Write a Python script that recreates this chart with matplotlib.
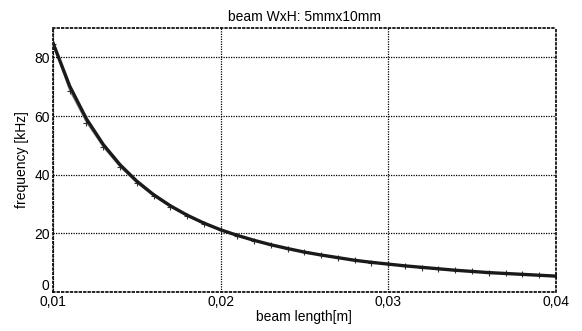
import matplotlib
matplotlib.use("Agg")
import matplotlib.pyplot as plt
from matplotlib.ticker import FuncFormatter
from matplotlib.transforms import ScaledTranslation

plt.rcParams["font.family"] = ["Liberation Sans", "DejaVu Sans"]

# beam length [m]
length = [0.010, 0.011, 0.012, 0.013, 0.014, 0.015, 0.016, 0.017, 0.018, 0.019,
          0.020, 0.021, 0.022, 0.023, 0.024, 0.025, 0.026, 0.027, 0.028, 0.029,
          0.030, 0.031, 0.032, 0.033, 0.034, 0.035, 0.036, 0.037, 0.038, 0.039,
          0.040]
# computed frequency [kHz] (thick line)
freq_calc = [85.0, 70.2, 59.0, 50.3, 43.4, 37.8, 33.2, 29.4, 26.2, 23.5,
             21.2, 19.3, 17.6, 16.1, 14.8, 13.6, 12.6, 11.7, 10.8, 10.1,
             9.5, 8.9, 8.4, 7.9, 7.4, 7.0, 6.6, 6.3, 6.0, 5.7,
             5.4]
# second series with + markers
freq_meas = [84.6, 68.6, 57.8, 49.4, 42.6, 37.2, 32.7, 29.0, 25.9, 23.2,
             21.0, 19.1, 17.4, 16.0, 14.7, 13.5, 12.5, 11.6, 10.8, 10.0,
             9.4, 8.8, 8.3, 7.8, 7.4, 7.0, 6.6, 6.3, 6.0, 5.7,
             5.4]

fig = plt.figure(figsize=(5.82, 3.31), dpi=100)
ax = fig.add_axes([0.091, 0.118, 0.864, 0.797])

ax.plot(length, freq_meas, color="#888888", linewidth=0.8, marker="+",
        markersize=5, markeredgewidth=0.8, markeredgecolor="#333333", zorder=2)
ax.plot(length, freq_calc, color="#1a1a1a", linewidth=2.4, zorder=3)

ax.set_xlim(0.01, 0.04)
ax.set_ylim(0, 90)
ax.set_xticks([0.01, 0.02, 0.03, 0.04])
ax.set_yticks([0, 20, 40, 60, 80])
ax.xaxis.set_major_formatter(FuncFormatter(lambda v, p: f"{v:.2f}".replace(".", ",")))
ax.grid(True, color="black", linestyle=(0, (1, 1)), linewidth=0.9)
for s in ax.spines.values():
    s.set_linestyle(":")
    s.set_linewidth(1.2)
ax.tick_params(length=0, labelsize=10, pad=2)

# lift the "0" label a little so it clears "0,01"
ylab0 = ax.get_yticklabels()[0]
ylab0.set_transform(ylab0.get_transform() + ScaledTranslation(-1 / 72, 5 / 72, fig.dpi_scale_trans))

ax.set_title("beam WxH: 5mmx10mm", fontsize=10, pad=5)
ax.set_xlabel("beam length[m]", fontsize=10, labelpad=1)
ax.set_ylabel("frequency [kHz]", fontsize=10, labelpad=4)

fig.savefig("out.png", dpi=100)
